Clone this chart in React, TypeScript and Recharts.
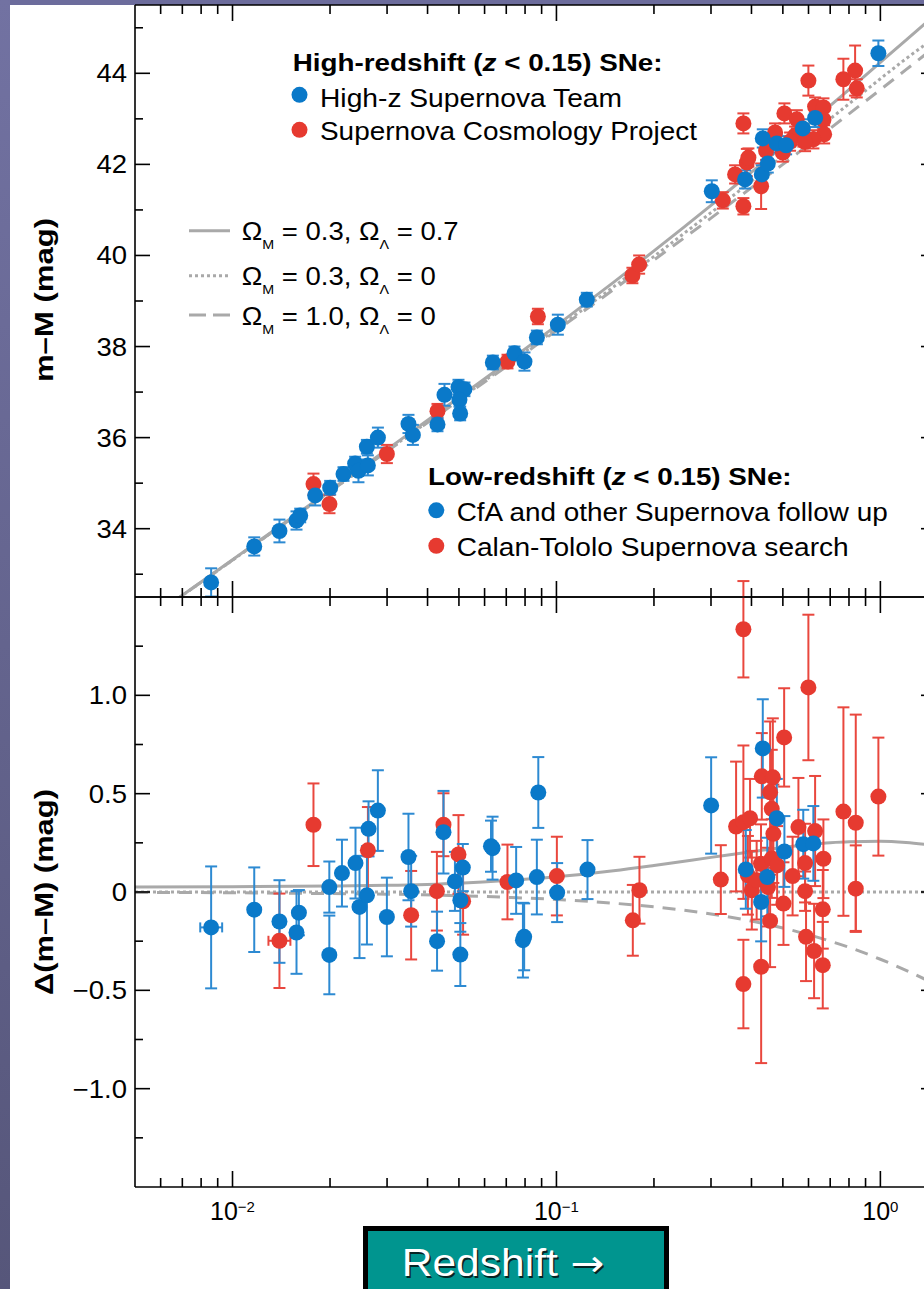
import React from 'react';
import { ComposedChart, Scatter, Line, XAxis, YAxis, ErrorBar } from 'recharts';

const FONT = '"Liberation Sans", Arial, Helvetica, sans-serif';
const BLUE = '#0a79c9';
const RED = '#e63a30';
const BLUE_BAR = '#2d8ad2';
const RED_BAR = '#e9473e';
const GRAY = '#a9a9a9';
const TEAL = '#00958f';

// ---------- axes ----------
const X_DOMAIN: [number, number] = [0.005, 1.485];
const X_TICKS = [0.006, 0.007, 0.008, 0.009, 0.01, 0.02, 0.03, 0.04, 0.05, 0.06, 0.07, 0.08, 0.09, 0.1, 0.2, 0.3, 0.4, 0.5, 0.6, 0.7, 0.8, 0.9, 1];
const TOP_Y_DOMAIN: [number, number] = [32.5, 45.5];
const TOP_Y_TICKS = [33, 34, 35, 36, 37, 38, 39, 40, 41, 42, 43, 44, 45];
const RES_Y_DOMAIN: [number, number] = [-1.5, 1.5];
const RES_Y_TICKS = [-1.25, -1, -0.75, -0.5, -0.25, 0, 0.25, 0.5, 0.75, 1, 1.25];

// ---------- top panel: distance modulus ----------
const topBlueZ = [0.00859, 0.01167, 0.01396, 0.01576, 0.01618, 0.018, 0.02002, 0.02201, 0.02391, 0.02448, 0.02617, 0.02599, 0.02811, 0.03493, 0.03604, 0.04293, 0.04512, 0.04984, 0.052, 0.05019, 0.05044, 0.06364, 0.07421, 0.07967, 0.08702, 0.101, 0.1241, 0.3017, 0.3823, 0.4305, 0.4492, 0.4335, 0.4788, 0.5117, 0.5761, 0.6288, 0.9859];
const topBlueMu = [32.82, 33.61, 33.95, 34.18, 34.29, 34.73, 34.9, 35.2, 35.43, 35.27, 35.39, 35.8, 36.0, 36.3, 36.06, 36.29, 36.94, 37.11, 37.06, 36.83, 36.53, 37.65, 37.85, 37.67, 38.2, 38.48, 39.03, 41.41, 41.67, 41.78, 42.02, 42.57, 42.46, 42.42, 42.79, 43.02, 44.44];
const topBlueErr = [0.31, 0.2, 0.25, 0.2, 0.15, 0.22, 0.15, 0.15, 0.15, 0.25, 0.22, 0.15, 0.22, 0.2, 0.22, 0.15, 0.24, 0.16, 0.15, 0.15, 0.15, 0.15, 0.15, 0.2, 0.15, 0.22, 0.15, 0.24, 0.2, 0.2, 0.2, 0.2, 0.2, 0.2, 0.2, 0.2, 0.28];

const topRedZ = [0.01778, 0.01992, 0.02996, 0.04293, 0.07062, 0.08764, 0.1716, 0.18, 0.3263, 0.3777, 0.3777, 0.3561, 0.387, 0.3914, 0.4284, 0.4438, 0.4732, 0.5055, 0.4998, 0.5521, 0.5454, 0.5785, 0.5995, 0.6288, 0.6673, 0.6673, 0.6706, 0.6212, 0.5856, 0.7688, 0.8356, 0.8456, 0.5264];
const topRedMu = [34.98, 34.54, 35.64, 36.58, 37.67, 38.66, 39.56, 39.8, 41.21, 42.9, 41.08, 41.78, 42.04, 42.15, 41.52, 42.3, 42.7, 43.12, 42.26, 42.99, 42.63, 42.59, 43.84, 43.27, 43.25, 42.98, 42.66, 42.55, 42.49, 43.87, 44.06, 43.67, 42.5];
const topRedErr = [0.23, 0.2, 0.2, 0.16, 0.15, 0.17, 0.17, 0.2, 0.18, 0.22, 0.18, 0.2, 0.3, 0.2, 0.5, 0.2, 0.2, 0.22, 0.2, 0.2, 0.2, 0.2, 0.33, 0.2, 0.2, 0.2, 0.2, 0.2, 0.2, 0.45, 0.55, 0.2, 0.2];

// ---------- bottom panel: residuals ----------
const resBlueZ = [0.01167, 0.01396, 0.01603, 0.01576, 0.0199, 0.0199, 0.02177, 0.02397, 0.02466, 0.026, 0.0263, 0.0281, 0.02996, 0.03493, 0.0356, 0.0428, 0.0448, 0.0486, 0.0505, 0.0514, 0.0505, 0.0635, 0.0628, 0.0751, 0.0788, 0.0795, 0.087, 0.0879, 0.1005, 0.1247, 0.3003, 0.4335, 0.4789, 0.5055, 0.578, 0.621, 0.3842, 0.4477, 0.4285];
const resBlueD = [-0.09, -0.15, -0.105, -0.206, 0.025, -0.32, 0.096, 0.147, -0.076, -0.017, 0.321, 0.414, -0.127, 0.178, 0.004, -0.25, 0.304, 0.054, -0.042, 0.124, -0.318, 0.223, 0.233, 0.059, -0.245, -0.228, 0.076, 0.506, -0.003, 0.114, 0.44, 0.73, 0.375, 0.206, 0.243, 0.247, 0.115, 0.076, -0.051];
const resBlueErr = [0.215, 0.21, 0.115, 0.21, 0.13, 0.2, 0.17, 0.18, 0.26, 0.25, 0.14, 0.205, 0.2, 0.22, 0.18, 0.15, 0.21, 0.15, 0.16, 0.12, 0.16, 0.16, 0.13, 0.17, 0.19, 0.17, 0.19, 0.18, 0.15, 0.15, 0.245, 0.25, 0.2, 0.18, 0.175, 0.19, 0.2, 0.2, 0.2];
// points with horizontal (redshift) error bars
const resBlueXZ = [0.00859];
const resBlueXD = [-0.18];
const resBlueXErr = [0.31];
const resBlueXZErr: [number, number][] = [[0.00064, 0.0007]];

const resRedZ = [0.01778, 0.02618, 0.0356, 0.04275, 0.0448, 0.04984, 0.0515, 0.0706, 0.1003, 0.1804, 0.1721, 0.3217, 0.3777, 0.5995, 0.5046, 0.4305, 0.4656, 0.4567, 0.462, 0.4674, 0.3586, 0.3777, 0.396, 0.5585, 0.6288, 0.769, 0.8395, 0.986, 0.3777, 0.4285, 0.4567, 0.5022, 0.5358, 0.5856, 0.5856, 0.5896, 0.6243, 0.664, 0.664, 0.667, 0.8395, 0.39, 0.401, 0.415, 0.428, 0.462, 0.48, 0.45];
const resRedD = [0.342, 0.212, -0.118, 0.004, 0.342, 0.191, -0.047, 0.051, 0.081, 0.009, -0.144, 0.063, 1.336, 1.04, 0.786, 0.588, 0.583, 0.507, 0.423, 0.296, 0.333, 0.355, 0.375, 0.33, 0.31, 0.409, 0.352, 0.485, -0.468, -0.38, -0.147, -0.059, 0.081, 0.147, 0.004, -0.228, -0.3, -0.372, -0.088, 0.169, 0.017, 0.085, 0.009, 0.06, 0.144, 0.17, 0.135, 0.025];
const resRedErr = [0.21, 0.22, 0.225, 0.2, 0.16, 0.2, 0.17, 0.19, 0.2, 0.17, 0.18, 0.175, 0.245, 0.37, 0.25, 0.22, 0.3, 0.36, 0.3, 0.25, 0.33, 0.39, 0.2, 0.25, 0.28, 0.53, 0.55, 0.3, 0.225, 0.49, 0.235, 0.21, 0.2, 0.2, 0.1, 0.225, 0.24, 0.22, 0.2, 0.2, 0.22, 0.2, 0.2, 0.2, 0.2, 0.2, 0.2, 0.2];
const resRedXZ = [0.01396];
const resRedXD = [-0.248];
const resRedXErr = [0.24];
const resRedXZErr: [number, number][] = [[0.00105, 0.00113]];

// ---------- model curves ----------
const curveZ = [0.005, 0.01, 0.02, 0.03, 0.05, 0.07, 0.1, 0.15, 0.2, 0.3, 0.4, 0.5, 0.6, 0.7, 0.8, 1.0, 1.2, 1.485];
const topSolid = [31.8, 33.32, 34.84, 35.74, 36.88, 37.64, 38.46, 39.41, 40.1, 41.1, 41.83, 42.4, 42.88, 43.29, 43.64, 44.24, 44.73, 45.3];
const topDotted = [31.8, 33.31, 34.82, 35.71, 36.84, 37.59, 38.39, 39.31, 39.98, 40.94, 41.63, 42.19, 42.62, 43.0, 43.33, 43.88, 44.32, 44.8];
const topDashed = [31.8, 33.31, 34.82, 35.7, 36.82, 37.56, 38.35, 39.25, 39.9, 40.82, 41.49, 42.0, 42.43, 42.79, 43.11, 43.64, 44.08, 44.6];
const resSolid = [0.025, 0.027, 0.03, 0.034, 0.045, 0.058, 0.077, 0.108, 0.135, 0.176, 0.205, 0.226, 0.241, 0.251, 0.256, 0.258, 0.252, 0.236];
const resDashed = [-0.002, -0.004, -0.008, -0.011, -0.019, -0.027, -0.038, -0.057, -0.075, -0.112, -0.148, -0.183, -0.217, -0.25, -0.281, -0.342, -0.398, -0.471];
const resDottedZ = [0.005, 1.485];
const resDotted = [0, 0];

// ---------- helpers ----------
const rows = (z: number[], v: number[], e?: number[], ex?: [number, number][]) =>
  z.map((zz, i) => ({ z: zz, v: v[i], e: e ? e[i] : 0, ex: ex ? ex[i] : undefined }));

const AX = { stroke: '#000', strokeWidth: 1.6 };
const isDecade = (v: number) => Math.abs(Math.log10(v) - Math.round(Math.log10(v))) < 1e-6;

const dotShape = (color: string) => (p: any) => <circle cx={p.cx} cy={p.cy} r={8} fill={color} />;

function XTick(props: any) {
  const { x, y, payload, dir, labels } = props;
  const v = payload.value as number;
  const major = isDecade(v);
  const len = major ? 16 : 9;
  const y2 = dir === 'up' ? y - len : y + len;
  const exp = Math.round(Math.log10(v));
  return (
    <g>
      <line x1={x} x2={x} y1={y} y2={y2} stroke="#000" strokeWidth={1.6} />
      {labels && major && (
        <text x={x} y={y + 33} textAnchor="middle" fontSize={25} fontFamily={FONT} fill="#000">
          <tspan>10</tspan>
          <tspan dy={-8} fontSize={15}>{exp < 0 ? '\u2212' + Math.abs(exp) : String(exp)}</tspan>
        </text>
      )}
    </g>
  );
}

function YTick(props: any) {
  const { x, y, payload, side, kind } = props;
  const v = payload.value as number;
  const major = kind === 'top' ? Math.abs(v % 2) < 1e-9 : Math.abs(v * 2 - Math.round(v * 2)) < 1e-9;
  const len = major ? 15 : 8;
  const x2 = side === 'left' ? x + len : x - len;
  let label = '';
  if (kind === 'top') label = String(v);
  else label = v === 0 ? '0' : (v < 0 ? '\u2212' : '') + Math.abs(v).toFixed(1);
  return (
    <g>
      <line x1={x} x2={x2} y1={y} y2={y} stroke="#000" strokeWidth={1.6} />
      {side === 'left' && major && (
        <text transform={`translate(${x - 8},${y + 9}) scale(1.1,1)`} textAnchor="end" fontSize={25} fontFamily={FONT} fill="#000">
          {label}
        </text>
      )}
    </g>
  );
}

function commonAxes(yDomain: [number, number], yTicks: number[], kind: string, bottomLabels: boolean) {
  return [
    <XAxis key="xb" type="number" dataKey="z" scale="log" domain={X_DOMAIN} allowDataOverflow ticks={X_TICKS} interval={0}
      height={1} tickSize={0} tickMargin={0} tickLine={false} axisLine={AX}
      tick={(p: any) => <XTick {...p} dir="up" labels={bottomLabels} />} />,
    <XAxis key="xt" xAxisId="t" orientation="top" type="number" dataKey="z" scale="log" domain={X_DOMAIN} allowDataOverflow ticks={X_TICKS} interval={0}
      height={1} tickSize={0} tickMargin={0} tickLine={false} axisLine={AX}
      tick={(p: any) => <XTick {...p} dir="down" labels={false} />} />,
    <YAxis key="yl" type="number" dataKey="v" domain={yDomain} allowDataOverflow ticks={yTicks} interval={0}
      width={1} tickSize={0} tickMargin={0} tickLine={false} axisLine={AX}
      tick={(p: any) => <YTick {...p} side="left" kind={kind} />} />,
    <YAxis key="yr" yAxisId="r" orientation="right" type="number" dataKey="v" domain={yDomain} allowDataOverflow ticks={yTicks} interval={0}
      width={1} tickSize={0} tickMargin={0} tickLine={false} axisLine={AX}
      tick={(p: any) => <YTick {...p} side="right" kind={kind} />} />,
  ];
}

function TopPanel() {
  return (
    <ComposedChart width={960} height={637} margin={{ top: 4, right: 23, bottom: 39, left: 134 }}>
      {commonAxes(TOP_Y_DOMAIN, TOP_Y_TICKS, 'top', false)}
      <Line data={rows(curveZ, topDashed)} dataKey="v" type="monotone" stroke={GRAY} strokeWidth={3} strokeDasharray="13 9" dot={false} activeDot={false} isAnimationActive={false} />
      <Line data={rows(curveZ, topDotted)} dataKey="v" type="monotone" stroke={GRAY} strokeWidth={3} strokeDasharray="3 3" dot={false} activeDot={false} isAnimationActive={false} />
      <Line data={rows(curveZ, topSolid)} dataKey="v" type="monotone" stroke={GRAY} strokeWidth={3} dot={false} activeDot={false} isAnimationActive={false} />
      <Scatter data={rows(topRedZ, topRedMu, topRedErr)} shape={dotShape(RED)} isAnimationActive={false}>
        <ErrorBar dataKey="e" direction="y" width={6} stroke={RED_BAR} strokeWidth={2} />
      </Scatter>
      <Scatter data={rows(topBlueZ, topBlueMu, topBlueErr)} shape={dotShape(BLUE)} isAnimationActive={false}>
        <ErrorBar dataKey="e" direction="y" width={6} stroke={BLUE_BAR} strokeWidth={2} />
      </Scatter>
    </ComposedChart>
  );
}

function ResidualPanel() {
  return (
    <ComposedChart width={960} height={687} margin={{ top: 36, right: 23, bottom: 59, left: 134 }}>
      {commonAxes(RES_Y_DOMAIN, RES_Y_TICKS, 'res', true)}
      <Line data={rows(curveZ, resDashed)} dataKey="v" type="monotone" stroke={GRAY} strokeWidth={3} strokeDasharray="13 9" dot={false} activeDot={false} isAnimationActive={false} />
      <Line data={rows(resDottedZ, resDotted)} dataKey="v" type="linear" stroke={GRAY} strokeWidth={3} strokeDasharray="3 3" dot={false} activeDot={false} isAnimationActive={false} />
      <Line data={rows(curveZ, resSolid)} dataKey="v" type="monotone" stroke={GRAY} strokeWidth={3} dot={false} activeDot={false} isAnimationActive={false} />
      <Scatter data={rows(resRedZ, resRedD, resRedErr)} shape={dotShape(RED)} isAnimationActive={false}>
        <ErrorBar dataKey="e" direction="y" width={6} stroke={RED_BAR} strokeWidth={2} />
      </Scatter>
      <Scatter data={rows(resRedXZ, resRedXD, resRedXErr, resRedXZErr)} shape={dotShape(RED)} isAnimationActive={false}>
        <ErrorBar dataKey="e" direction="y" width={6} stroke={RED_BAR} strokeWidth={2} />
        <ErrorBar dataKey="ex" direction="x" width={5} stroke={RED_BAR} strokeWidth={2} />
      </Scatter>
      <Scatter data={rows(resBlueZ, resBlueD, resBlueErr)} shape={dotShape(BLUE)} isAnimationActive={false}>
        <ErrorBar dataKey="e" direction="y" width={6} stroke={BLUE_BAR} strokeWidth={2} />
      </Scatter>
      <Scatter data={rows(resBlueXZ, resBlueXD, resBlueXErr, resBlueXZErr)} shape={dotShape(BLUE)} isAnimationActive={false}>
        <ErrorBar dataKey="e" direction="y" width={6} stroke={BLUE_BAR} strokeWidth={2} />
        <ErrorBar dataKey="ex" direction="x" width={5} stroke={BLUE_BAR} strokeWidth={2} />
      </Scatter>
    </ComposedChart>
  );
}

function Overlay() {
  const omega = (x: number, y: number, m: string, l: string) => (
    <text transform={`translate(${x},${y}) scale(1.1,1)`} fontSize={25} fill="#000">
      <tspan>Ω</tspan>
      <tspan dy={9} fontSize={13}>M</tspan>
      <tspan dy={-9}>{' = ' + m + ', Ω'}</tspan>
      <tspan dy={9} fontSize={13}>Λ</tspan>
      <tspan dy={-9}>{' = ' + l}</tspan>
    </text>
  );
  return (
    <svg width={924} height={1289} style={{ position: 'absolute', left: 0, top: 0, pointerEvents: 'none' }} fontFamily={FONT}>
      {/* axis titles */}
      <text transform="translate(53,300) rotate(-90)" textAnchor="middle" fontSize={25} fontWeight="bold" textLength={164} lengthAdjust="spacingAndGlyphs">m–M (mag)</text>
      <text transform="translate(53,892) rotate(-90)" textAnchor="middle" fontSize={25} fontWeight="bold" textLength={206} lengthAdjust="spacingAndGlyphs">Δ(m–M) (mag)</text>

      {/* high-z legend */}
      <text transform="translate(292.7,70.7) scale(1.135,1)" fontSize={24.5} fontWeight="bold">
        {'High-redshift ('}<tspan fontStyle="italic">z</tspan>{' < 0.15) SNe:'}
      </text>
      <circle cx={299.5} cy={94.8} r={8} fill={BLUE} />
      <text x={320} y={106.5} fontSize={25} textLength={302} lengthAdjust="spacingAndGlyphs">High-z Supernova Team</text>
      <circle cx={299.5} cy={129.8} r={8} fill={RED} />
      <text x={320} y={140} fontSize={25} textLength={377} lengthAdjust="spacingAndGlyphs">Supernova Cosmology Project</text>

      {/* model legend */}
      <line x1={189} x2={230} y1={230.7} y2={230.7} stroke={GRAY} strokeWidth={3} />
      {omega(241.7, 240, '0.3', '0.7')}
      <line x1={189} x2={230} y1={275.7} y2={275.7} stroke={GRAY} strokeWidth={3} strokeDasharray="3 3" />
      {omega(241.7, 284.5, '0.3', '0')}
      <line x1={189} x2={230} y1={315} y2={315} stroke={GRAY} strokeWidth={3} strokeDasharray="17 7" />
      {omega(241.7, 324.5, '1.0', '0')}

      {/* low-z legend */}
      <text transform="translate(428,485) scale(1.135,1)" fontSize={24.5} fontWeight="bold">
        {'Low-redshift ('}<tspan fontStyle="italic">z</tspan>{' < 0.15) SNe:'}
      </text>
      <circle cx={436.3} cy={510.3} r={8} fill={BLUE} />
      <text x={456.7} y={520.5} fontSize={25} textLength={431} lengthAdjust="spacingAndGlyphs">CfA and other Supernova follow up</text>
      <circle cx={436.3} cy={545.8} r={8} fill={RED} />
      <text x={456.7} y={555.8} fontSize={25} textLength={392} lengthAdjust="spacingAndGlyphs">Calan-Tololo Supernova search</text>

      {/* Redshift box */}
      <rect x={365.5} y={1228.5} width={301} height={80} fill={TEAL} stroke="#000" strokeWidth={5} />
      <text transform="translate(403.2,1277.5) scale(1.12,1)" fontSize={38} fill="#072424">
        Redshift<tspan fontFamily='"DejaVu Sans", sans-serif' fontSize={36}>{' \u2192'}</tspan>
      </text>
      <text transform="translate(401.7,1276) scale(1.12,1)" fontSize={38} fill="#ffffff">
        Redshift<tspan fontFamily='"DejaVu Sans", sans-serif' fontSize={36}>{' \u2192'}</tspan>
      </text>
    </svg>
  );
}

export default function App() {
  return (
    <div style={{ position: 'absolute', left: 0, top: 0, width: 924, height: 1289, overflow: 'hidden', background: '#ffffff', fontFamily: FONT }}>
      <div style={{ position: 'absolute', left: 0, top: 0, width: 924, height: 5, background: '#6c6c9c' }} />
      <div style={{ position: 'absolute', left: 0, top: 0, width: 10, height: 1289, background: 'linear-gradient(to bottom, #7272a2, #56567a)' }} />
      <div style={{ position: 'absolute', left: 0, top: 0 }}>
        <TopPanel />
      </div>
      <div style={{ position: 'absolute', left: 0, top: 560 }}>
        <ResidualPanel />
      </div>
      <Overlay />
    </div>
  );
}
